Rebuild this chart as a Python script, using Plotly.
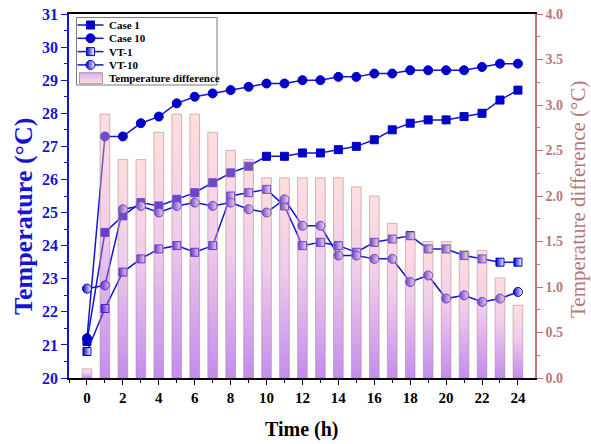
import plotly.graph_objects as go

# Hourly readings (h)
hours = list(range(25))

# Temperatures (°C)
case1 = [21.1, 24.4, 24.9, 25.3, 25.2, 25.4, 25.6, 25.9, 26.2, 26.4, 26.7, 26.7, 26.8,
         26.8, 26.9, 27.0, 27.2, 27.5, 27.7, 27.8, 27.8, 27.9, 28.0, 28.4, 28.7]
case10 = [21.2, 27.3, 27.3, 27.7, 27.9, 28.3, 28.5, 28.6, 28.7, 28.8, 28.9, 28.9, 29.0,
          29.0, 29.1, 29.1, 29.2, 29.2, 29.3, 29.3, 29.3, 29.3, 29.4, 29.5, 29.5]
vt1 = [20.8, 22.1, 23.2, 23.6, 23.9, 24.0, 23.8, 24.0, 25.5, 25.6, 25.7, 25.2, 24.0,
       24.1, 24.0, 23.8, 24.1, 24.2, 24.3, 23.9, 23.9, 23.7, 23.6, 23.5, 23.5]
vt10 = [22.7, 22.8, 25.1, 25.2, 25.0, 25.2, 25.3, 25.2, 25.3, 25.1, 25.0, 25.4, 24.6,
        24.6, 23.7, 23.7, 23.6, 23.6, 22.9, 23.1, 22.4, 22.5, 22.3, 22.4, 22.6]

# Temperature difference between Case 10 and Case 1 (°C)
temp_diff = [0.1, 2.9, 2.4, 2.4, 2.7, 2.9, 2.9, 2.7, 2.5, 2.4, 2.2, 2.2, 2.2,
             2.2, 2.2, 2.1, 2.0, 1.7, 1.6, 1.5, 1.5, 1.4, 1.4, 1.1, 0.8]

x_ticks = list(range(0, 25, 2))

FONT = "Liberation Serif"
BLUE = "#1414d2"
MARK = "#0000c8"
BROWN = "#b87878"
BAR_W = 0.54

# figure / plot-area geometry in pixels
W, H = 591, 444
ML, MR, MT, MB = 69, 56, 14, 66
PW, PH = W - ML - MR, H - MT - MB


def px_to_paper(px, py):
    """Convert a pixel position in the figure to paper coordinates."""
    return (px - ML) / PW, (H - MB - py) / PH


fig = go.Figure()

line_series = [
    ("Case 1", case1, "square", 8, None),
    ("Case 10", case10, "circle", 9, None),
    ("VT-1", vt1, "square", 8, "white"),
    ("VT-10", vt10, "circle", 9, "white"),
]


def marker_style(sym, size, half):
    m = dict(symbol=sym, size=size, color=MARK, line=dict(color=MARK, width=1))
    if half:
        m["gradient"] = dict(type="horizontal", color=half)
    return m


for name, vals, sym, size, half in line_series:
    fig.add_trace(go.Scatter(
        x=hours, y=vals, name=name, mode="lines+markers",
        line=dict(color=BLUE, width=1.5), marker=marker_style(sym, size, half),
        xaxis="x", yaxis="y", showlegend=False,
    ))

# Semi-transparent gradient bars, drawn on the secondary axis above the lines
grad = [[0.0, "rgba(122,0,217,0.45)"],
        [0.55, "rgba(222,144,211,0.45)"],
        [1.0, "rgba(255,182,182,0.45)"]]
for h, v in zip(hours, temp_diff):
    x0, x1 = h - BAR_W / 2, h + BAR_W / 2
    fig.add_trace(go.Scatter(
        x=[x0, x0, x1, x1, x0], y=[0, v, v, 0, 0],
        mode="lines", fill="toself",
        fillgradient=dict(type="vertical", colorscale=grad),
        line=dict(color="rgba(175,135,135,0.55)", width=1),
        name="Temperature difference", showlegend=False, hoverinfo="skip",
        xaxis="x", yaxis="y2",
    ))

# ---- Compact legend box, laid out on a pixel-scaled overlay axis pair ----
LEG_L, LEG_R, LEG_T, LEG_B = 76.5, 217, 17.5, 85
ROW0, ROW_STEP = 25, 13.3
SAMPLE_X0, SAMPLE_X1, TEXT_X = 77.5, 103.5, 106.5
legend_font = dict(family=FONT, size=11, color="black", weight="bold")

shapes = [dict(type="rect", xref="x3", yref="y3", x0=LEG_L, x1=LEG_R, y0=LEG_T, y1=LEG_B,
               line=dict(color="#7a7a7a", width=1), fillcolor="white", layer="below")]
annotations = []

for k, (name, vals, sym, size, half) in enumerate(line_series):
    ry = ROW0 + k * ROW_STEP
    fig.add_trace(go.Scatter(
        x=[SAMPLE_X0, SAMPLE_X1], y=[ry, ry], mode="lines",
        line=dict(color=BLUE, width=1.5), showlegend=False, hoverinfo="skip",
        xaxis="x3", yaxis="y3",
    ))
    fig.add_trace(go.Scatter(
        x=[(SAMPLE_X0 + SAMPLE_X1) / 2], y=[ry], mode="markers",
        marker=marker_style(sym, size, half), showlegend=False, hoverinfo="skip",
        xaxis="x3", yaxis="y3",
    ))
    annotations.append(dict(x=TEXT_X, y=ry, xref="x3", yref="y3", text=name,
                            showarrow=False, xanchor="left", yanchor="middle",
                            font=legend_font))

ry = ROW0 + 4 * ROW_STEP
sw_x0, sw_x1, sw_y0, sw_y1 = 79.5, 102.5, ry - 5.5, ry + 5.5
fig.add_trace(go.Scatter(
    x=[sw_x0, sw_x0, sw_x1, sw_x1, sw_x0], y=[sw_y1, sw_y0, sw_y0, sw_y1, sw_y1],
    mode="lines", fill="toself",
    fillgradient=dict(type="vertical", colorscale=[[0.0, "rgba(255,182,182,0.45)"],
                                                   [1.0, "rgba(170,80,225,0.45)"]]),
    line=dict(color="rgba(150,120,120,0.7)", width=1),
    showlegend=False, hoverinfo="skip", xaxis="x3", yaxis="y3",
))
annotations.append(dict(x=TEXT_X, y=ry, xref="x3", yref="y3", text="Temperature difference",
                        showarrow=False, xanchor="left", yanchor="middle", font=legend_font))

# ---- Axis titles ----
tx, ty = px_to_paper(23, 217)
annotations.append(dict(x=tx, y=ty, xref="paper", yref="paper", text="Temperature (°C)",
                        textangle=-90, showarrow=False, xanchor="center", yanchor="middle",
                        font=dict(family=FONT, size=26, color=BLUE, weight="bold")))
tx, ty = px_to_paper(578, 200)
annotations.append(dict(x=tx, y=ty, xref="paper", yref="paper",
                        text="Temperature difference (°C)",
                        textangle=-90, showarrow=False, xanchor="center", yanchor="middle",
                        font=dict(family=FONT, size=21, color=BROWN)))
tx, ty = px_to_paper(301.5, 429)
annotations.append(dict(x=tx, y=ty, xref="paper", yref="paper", text="Time (h)",
                        showarrow=False, xanchor="center", yanchor="middle",
                        font=dict(family=FONT, size=20, color="black", weight="bold")))

fig.update_layout(
    width=W, height=H,
    margin=dict(l=ML, r=MR, t=MT, b=MB, autoexpand=False),
    paper_bgcolor="white", plot_bgcolor="white",
    font=dict(family=FONT, color="black"),
    showlegend=False,
    shapes=shapes,
    annotations=annotations,
    xaxis=dict(
        range=[-1, 24.95], tickmode="array", tickvals=x_ticks, automargin=False,
        ticks="outside", ticklen=5, tickwidth=1.2, tickcolor="black",
        showline=True, linecolor="black", linewidth=1.5, mirror=True,
        showgrid=False, zeroline=False,
        minor=dict(dtick=1, ticks="outside", ticklen=3, tickcolor="black", showgrid=False),
        tickfont=dict(family=FONT, size=15, color="black", weight="bold"),
    ),
    yaxis=dict(
        range=[20, 31], dtick=1, ticks="outside", ticklen=6, tickwidth=1.2, automargin=False,
        tickcolor=BLUE, showline=True, linecolor=BLUE, linewidth=1.5,
        showgrid=False, zeroline=False,
        minor=dict(dtick=0.5, ticks="outside", ticklen=3, tickcolor=BLUE, showgrid=False),
        tickfont=dict(family=FONT, size=16, color=BLUE, weight="bold"),
    ),
    yaxis2=dict(
        overlaying="y", side="right", range=[0, 4], dtick=0.5, tickformat=".1f",
        automargin=False,
        ticks="outside", ticklen=6, tickwidth=1.2, tickcolor=BROWN,
        showline=True, linecolor=BROWN, linewidth=1.5,
        showgrid=False, zeroline=False,
        minor=dict(dtick=0.25, ticks="outside", ticklen=3, tickcolor=BROWN, showgrid=False),
        tickfont=dict(family=FONT, size=14, color=BROWN, weight="bold"),
    ),
    xaxis3=dict(overlaying="x", range=[ML, W - MR], visible=False, fixedrange=True,
                automargin=False),
    yaxis3=dict(overlaying="y", range=[H - MB, MT], visible=False, fixedrange=True,
                automargin=False),
)

fig.write_html("out.html")
